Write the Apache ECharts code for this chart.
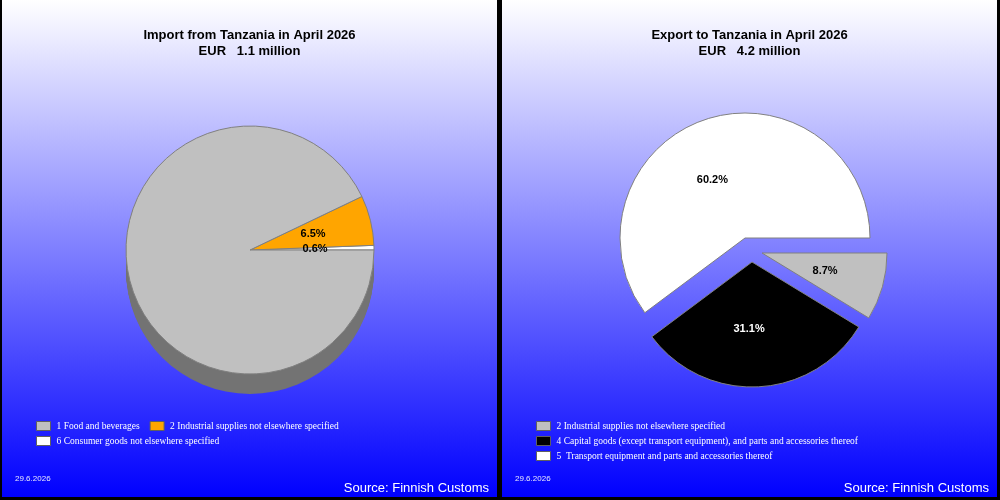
<!DOCTYPE html>
<html>
<head>
<meta charset="utf-8">
<script src="https://cdn.jsdelivr.net/npm/echarts@6/dist/echarts.min.js"></script>
<style>
  html, body { margin: 0; padding: 0; background: #000; }
  #wrap { position: relative; width: 1000px; height: 500px; background: #000; }
  .panel { position: absolute; top: 0; width: 495px; height: 497px;
    background: linear-gradient(to bottom, #ffffff 0%, #0000ff 100%); }
  #left { left: 2px; }
  #right { left: 502px; }
</style>
</head>
<body>
<div id="wrap">
  <div class="panel" id="left"></div>
  <div class="panel" id="right"></div>
</div>
<script>
// 进口数据
const importTitle = 'Import from Tanzania in April 2026';
const importTotal = 'EUR   1.1 million';
const importNames = ['6 Consumer goods not elsewhere specified', '2 Industrial supplies not elsewhere specified', '1 Food and beverages'];
const importValues = [0.6, 6.5, 92.9];
const importColors = ['#ffffff', '#ffa500', '#c0c0c0'];

// 出口数据
const exportTitle = 'Export to Tanzania in April 2026';
const exportTotal = 'EUR   4.2 million';
const exportNames = ['5  Transport equipment and parts and accessories thereof', '4 Capital goods (except transport equipment), and parts and accessories thereof', '2 Industrial supplies not elsewhere specified'];
const exportValues = [60.2, 31.1, 8.7];
const exportColors = ['#ffffff', '#000000', '#c0c0c0'];

const dateText = '29.6.2026';
const sourceText = 'Source: Finnish Customs';

// 分离扇区的位置（布局用）
const exportCenters = [[243, 238], [250, 262], [260, 253]];
const exportLabelOffsets = [[-12, 4], [-6, 2], [0, 0]];

function footer() {
  return [
    { type: 'text', left: 13, top: 475, style: { text: dateText, fill: '#e8e8ff', font: '8px Arial' } },
    { type: 'text', right: 8, top: 482, style: { text: sourceText, fill: '#ffffff', font: '13px Arial' } }
  ];
}

function titleOpt(t, total) {
  return {
    text: t + '\n' + total,
    left: 'center',
    top: 22,
    textStyle: { fontSize: 13, fontWeight: 'bold', color: '#000', fontFamily: 'Arial', lineHeight: 16 }
  };
}

const legendBase = {
  icon: 'rect',
  padding: 0,
  itemWidth: 14,
  itemHeight: 9,
  itemGap: 10,
  orient: 'horizontal',
  textStyle: { color: '#ffffff', fontSize: 9.5, fontFamily: 'Liberation Serif', padding: [0, 0, 0, 1] },
  itemStyle: { borderColor: '#606060', borderWidth: 1 },
  selectedMode: false
};

const labelBase = { show: true, position: 'inside', formatter: '{c}%', color: '#000', fontSize: 11, fontWeight: 'bold', fontFamily: 'Arial' };

// 左图：进口（带厚度）
let leftChart = echarts.init(document.getElementById('left'));
let depthSeries = [];
for (let k = 1; k <= 20; k++) {
  depthSeries.push({
    type: 'pie', silent: true, radius: 124, center: [248, 250 + k],
    label: { show: false }, labelLine: { show: false },
    itemStyle: { color: '#737373' },
    data: [{ value: 1, name: 'depth' + k }]
  });
}
leftChart.setOption({
  animation: false,
  title: titleOpt(importTitle, importTotal),
  legend: [
    Object.assign({}, legendBase, { left: 34, top: 421, data: [importNames[2], importNames[1]] }),
    Object.assign({}, legendBase, { left: 34, top: 436, data: [importNames[0]] })
  ],
  graphic: footer(),
  series: depthSeries.concat([{
    type: 'pie',
    radius: 124,
    center: [248, 250],
    startAngle: 0,
    clockwise: false,
    avoidLabelOverlap: false,
    emphasis: { disabled: true },
    itemStyle: { borderColor: '#808080', borderWidth: 1 },
    label: labelBase,
    labelLine: { show: false },
    data: importNames.map((n, i) => ({
      name: n, value: importValues[i], itemStyle: { color: importColors[i] },
      label: { show: i < 2 }
    }))
  }])
});

// 右图：出口（分离扇区，每个扇区一个系列）
let rightChart = echarts.init(document.getElementById('right'));
let exportSeries = exportNames.map((name, i) => ({
  type: 'pie',
  radius: 125,
  center: exportCenters[i],
  startAngle: 0,
  clockwise: false,
  avoidLabelOverlap: false,
  emphasis: { disabled: true },
  labelLine: { show: false },
  label: labelBase,
  data: exportValues.map((v, j) => j === i ? {
    name: name, value: v,
    itemStyle: { color: exportColors[j], borderColor: '#808080', borderWidth: 1 },
    label: { color: exportColors[j] === '#000000' ? '#ffffff' : '#000', offset: exportLabelOffsets[j] }
  } : {
    name: '_gap' + i + '_' + j, value: v,
    itemStyle: { color: 'rgba(0,0,0,0)', borderWidth: 0 },
    label: { show: false }
  })
}));
rightChart.setOption({
  animation: false,
  title: titleOpt(exportTitle, exportTotal),
  legend: Object.assign({}, legendBase, {
    orient: 'vertical', left: 34, top: 421, itemGap: 5,
    data: [exportNames[2], exportNames[1], exportNames[0]]
  }),
  graphic: footer(),
  series: exportSeries
});
</script>
</body>
</html>
